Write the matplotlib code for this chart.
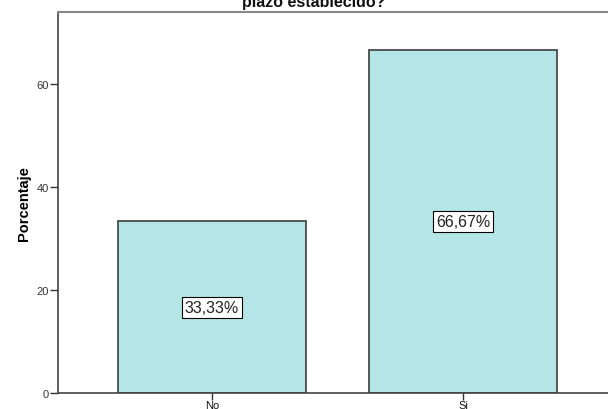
import matplotlib
matplotlib.use("Agg")
import matplotlib.pyplot as plt

categories = ["No", "Si"]
values = [33.33, 66.67]
labels = ["33,33%", "66,67%"]
yticks = [0, 20, 40, 60]

plt.rcParams['font.family'] = ['Liberation Sans', 'DejaVu Sans']

fig = plt.figure(figsize=(6.08, 4.10), dpi=100)
ax = fig.add_axes([58/608, 1 - 394/410, (608 - 58)/608 + 0.02, (394 - 13)/410])

x = list(range(len(categories)))
ax.bar(x, values, width=0.75, color="#B4E6E7", edgecolor="#4a4a4a", linewidth=1.3, zorder=2)

for xi, v, lab in zip(x, values, labels):
    ax.text(xi, v / 2, lab, ha="center", va="center", fontsize=11.5, color="#222222",
            bbox=dict(boxstyle="square,pad=0.2", fc="white", ec="black", lw=0.8), zorder=3)

ax.set_xlim(-0.6135, 1.6255)
ax.set_ylim(0, 74)
ax.set_yticks(yticks)
ax.set_yticklabels([str(t) for t in yticks], fontsize=8, color="#333333")
ax.set_xticks(x)
ax.set_xticklabels(categories, fontsize=8, color="#111111")
ax.tick_params(axis="y", length=6, width=1, color="#333333", pad=0.5)
ax.tick_params(axis="x", length=5, width=1, color="#333333", pad=0.3)

for s in ["left", "bottom"]:
    ax.spines[s].set_color("#444444")
    ax.spines[s].set_linewidth(1.2)
ax.spines["top"].set_color("#888888")
ax.spines["top"].set_linewidth(1.5)
ax.spines["right"].set_visible(False)

ax.set_ylabel("Porcentaje", fontsize=10.5, fontweight="bold", labelpad=4)

fig.text(314/608, 1 - 7/410, "plazo establecido?", ha="center", va="baseline",
         fontsize=11.5, fontweight="bold", color="#111111")

fig.savefig("out.png", dpi=100)
